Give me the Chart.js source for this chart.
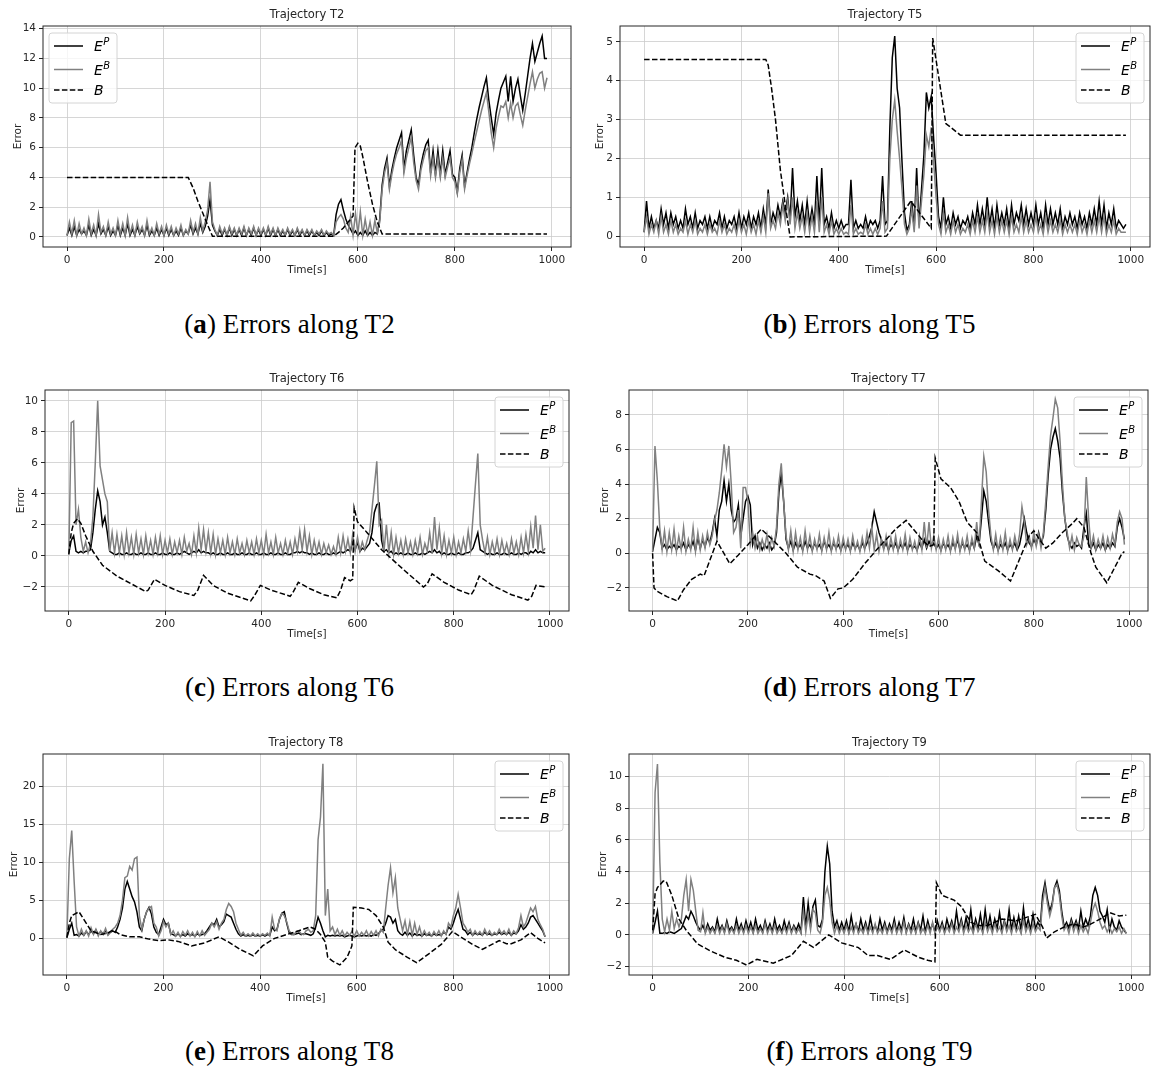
<!DOCTYPE html>
<html>
<head>
<meta charset="utf-8">
<title>Errors along trajectories</title>
<script src="https://cdn.jsdelivr.net/npm/chart.js@4.4.1/dist/chart.umd.min.js"></script>
<style>
  html, body { margin: 0; padding: 0; background: #ffffff; }
  #page { position: relative; width: 1159px; height: 1077px; overflow: hidden; background: #ffffff; }
  .panel { position: absolute; width: 579px; height: 290px; }
  .caption { position: absolute; width: 579px; text-align: center; font-family: 'Liberation Serif', 'Times New Roman', serif; font-size: 27px; line-height: 30px; letter-spacing: 0.1px; color: #000; }
</style>
</head>
<body>
<div id="page">
  <div class="panel" style="left:0px;top:0px"><canvas id="chartT2"></canvas></div>
  <div class="panel" style="left:580px;top:0px"><canvas id="chartT5"></canvas></div>
  <div class="panel" style="left:0px;top:364px"><canvas id="chartT6"></canvas></div>
  <div class="panel" style="left:580px;top:364px"><canvas id="chartT7"></canvas></div>
  <div class="panel" style="left:0px;top:728px"><canvas id="chartT8"></canvas></div>
  <div class="panel" style="left:580px;top:728px"><canvas id="chartT9"></canvas></div>

  <div class="caption" style="left:0px;top:309px">(<b>a</b>) Errors along T2</div>
  <div class="caption" style="left:580px;top:309px">(<b>b</b>) Errors along T5</div>
  <div class="caption" style="left:0px;top:672px">(<b>c</b>) Errors along T6</div>
  <div class="caption" style="left:580px;top:672px">(<b>d</b>) Errors along T7</div>
  <div class="caption" style="left:0px;top:1036px">(<b>e</b>) Errors along T8</div>
  <div class="caption" style="left:580px;top:1036px">(<b>f</b>) Errors along T9</div>
</div>
<script>
// sample times, seconds
const time = [
  0,5,10,15,20,25,30,35,40,45,50,55,60,65,70,75,80,85,90,95,
  100,105,110,115,120,125,130,135,140,145,150,155,160,165,170,175,180,185,190,195,
  200,205,210,215,220,225,230,235,240,245,250,255,260,265,270,275,280,285,290,295,
  300,305,310,315,320,325,330,335,340,345,350,355,360,365,370,375,380,385,390,395,
  400,405,410,415,420,425,430,435,440,445,450,455,460,465,470,475,480,485,490,495,
  500,505,510,515,520,525,530,535,540,545,550,555,560,565,570,575,580,585,590,595,
  600,605,610,615,620,625,630,635,640,645,650,655,660,665,670,675,680,685,690,695,
  700,705,710,715,720,725,730,735,740,745,750,755,760,765,770,775,780,785,790,795,
  800,805,810,815,820,825,830,835,840,845,850,855,860,865,870,875,880,885,890,895,
  900,905,910,915,920,925,930,935,940,945,950,955,960,965,970,975,980,985,990
];
const xRange = [-49.5, 1039.5];
const xTicks = [0, 200, 400, 600, 800, 1000];
const xTickLabels = ['0', '200', '400', '600', '800', '1000'];

// ---- Trajectory T2 ----
const t2EP = [
  0.1,0.6,0.1,0.7,0.1,0.5,0.2,0.4,0.1,0.8,0.1,0.5,0.1,0.9,0.2,0.5,0.1,0.7,0.1,0.4,
  0.1,0.8,0.1,0.6,0.1,0.9,0.1,0.5,0.1,0.7,0.2,0.5,0.1,0.8,0.1,0.4,0.1,0.6,0.1,0.5,
  0.1,0.6,0.1,0.5,0.1,0.4,0.1,0.6,0.1,0.4,0.2,0.8,0.2,0.6,0.2,0.9,0.3,0.7,1.4,2.5,
  0.8,0.4,0.1,0.5,0.1,0.5,0.1,0.6,0.1,0.5,0.1,0.5,0.1,0.6,0.1,0.5,0.1,0.6,0.1,0.5,
  0.1,0.5,0.1,0.6,0.1,0.5,0.1,0.5,0.1,0.4,0.1,0.5,0.1,0.4,0.1,0.5,0.1,0.4,0.1,0.4,
  0.1,0.4,0.1,0.3,0.1,0.4,0.1,0.3,0.1,0.2,0.1,1.5,2.2,2.5,1.8,1.2,0.8,0.5,0.2,0.4,
  0.1,0.3,0.1,0.4,0.1,0.3,0.1,0.3,0.2,1.2,3.5,4.6,5.3,3.4,4.5,5.3,6.0,6.5,7.0,4.6,
  5.8,6.5,7.2,5.5,4.0,3.5,4.8,5.6,6.2,6.5,4.3,5.8,4.2,5.8,4.2,5.8,4.2,5.0,5.8,4.2,
  4.0,3.0,4.6,5.5,3.4,4.3,5.2,6.0,7.0,7.9,8.7,9.4,10.1,10.7,9.2,8.0,6.9,8.3,9.2,10.0,
  10.4,10.8,9.1,10.8,9.1,10.0,10.6,9.5,8.5,9.6,10.8,12.0,13.0,11.8,12.4,13.0,13.5,12.0,12.0
];
const t2EB = [
  0.1,1.0,0.2,1.1,0.1,0.9,0.2,0.6,0.1,1.2,0.2,0.8,0.1,1.5,0.3,0.7,0.1,1.0,0.2,0.6,
  0.1,1.1,0.2,0.9,0.1,1.3,0.2,0.8,0.1,1.0,0.3,0.7,0.1,1.1,0.2,0.6,0.1,0.9,0.2,0.7,
  0.1,0.8,0.2,0.7,0.1,0.6,0.2,0.8,0.1,0.5,0.2,1.1,0.3,0.9,0.2,1.3,0.4,1.0,1.8,3.7,
  1.0,0.5,0.1,0.7,0.2,0.6,0.1,0.7,0.2,0.6,0.1,0.6,0.2,0.7,0.1,0.6,0.2,0.7,0.1,0.6,
  0.2,0.6,0.1,0.7,0.2,0.6,0.1,0.6,0.2,0.5,0.1,0.6,0.2,0.5,0.1,0.6,0.2,0.5,0.1,0.5,
  0.2,0.5,0.1,0.4,0.2,0.5,0.1,0.4,0.2,0.3,0.1,1.0,1.3,1.5,1.2,0.6,0.3,1.4,0.1,1.6,
  0.2,1.7,0.1,1.2,0.2,1.0,0.1,1.1,0.3,1.0,3.2,4.3,5.0,3.2,4.2,5.0,5.6,6.0,6.5,4.3,
  5.3,6.0,6.7,5.0,3.8,3.2,4.5,5.2,5.8,6.0,4.1,5.3,4.0,5.3,4.0,5.3,4.0,4.7,5.3,4.0,
  3.7,2.9,4.3,5.2,3.2,4.1,4.9,5.6,6.4,7.1,7.8,8.5,9.1,9.7,8.4,7.0,6.0,7.3,8.1,8.8,
  8.7,9.1,8.0,9.0,8.0,8.8,9.0,8.2,7.5,8.5,9.4,10.3,11.1,10.0,10.6,11.0,11.1,10.0,10.7
];
const t2BTime = [0,250,260,270,280,290,300,550,560,570,580,590,594,600,605,610,620,630,640,650,990];
const t2BVal = [4.0,4.0,3.3,2.4,1.6,0.8,0.05,0.05,0.3,0.6,1.0,1.4,6.0,6.3,6.1,5.4,3.7,2.2,1.0,0.2,0.2];
const t2YRange = [-0.68, 14.18];
const t2YTicks = [0, 2, 4, 6, 8, 10, 12, 14];
const t2YTickLabels = ['0', '2', '4', '6', '8', '10', '12', '14'];

// ---- Trajectory T5 ----
const t5EP = [
  0.1,0.9,0.2,0.5,0.2,0.4,0.2,0.7,0.3,0.6,0.2,0.6,0.3,0.5,0.2,0.4,0.2,0.7,0.3,0.5,
  0.2,0.6,0.2,0.4,0.3,0.5,0.2,0.5,0.2,0.4,0.3,0.6,0.2,0.5,0.2,0.4,0.3,0.5,0.2,0.6,
  0.2,0.5,0.3,0.6,0.2,0.5,0.3,0.6,0.2,0.7,0.3,1.2,0.3,0.6,0.4,0.8,0.5,0.9,0.6,1.0,
  0.4,1.75,0.5,0.9,0.4,0.8,0.3,0.9,0.3,0.7,0.3,1.55,0.3,1.75,0.3,0.5,0.2,0.6,0.2,0.4,
  0.2,0.4,0.2,0.3,0.3,1.45,0.2,0.4,0.2,0.3,0.2,0.5,0.2,0.4,0.3,0.4,0.2,0.4,1.55,0.3,
  0.4,2.8,4.6,5.15,3.8,3.3,1.9,0.6,0.15,0.3,0.9,0.2,1.75,0.3,1.2,2.1,3.7,3.3,3.6,2.5,
  1.6,0.5,0.2,1.0,0.3,0.5,0.2,0.6,0.3,0.5,0.2,0.4,0.3,0.5,0.2,0.6,0.3,0.8,0.3,0.7,
  0.3,1.0,0.3,0.7,0.2,0.8,0.3,0.6,0.3,0.7,0.2,0.8,0.3,0.6,0.4,0.8,0.3,0.7,0.3,0.6,
  0.3,0.8,0.3,0.6,0.2,0.8,0.3,0.7,0.3,0.6,0.3,0.7,0.2,0.5,0.3,0.6,0.3,0.5,0.2,0.6,
  0.3,0.5,0.2,0.6,0.3,0.7,0.3,0.9,0.3,0.8,0.2,0.6,0.3,0.7,0.2,0.4,0.3,0.2,0.3
];
const t5EB = [
  0.1,0.5,0.05,0.3,0.1,0.4,0.05,0.5,0.1,0.3,0.05,0.4,0.1,0.3,0.05,0.2,0.1,0.4,0.05,0.3,
  0.1,0.4,0.05,0.2,0.1,0.3,0.05,0.3,0.1,0.2,0.05,0.4,0.1,0.3,0.05,0.2,0.1,0.3,0.05,0.4,
  0.1,0.3,0.05,0.4,0.1,0.3,0.05,0.4,0.1,0.5,0.1,1.1,0.2,0.4,0.2,0.6,0.3,0.8,0.4,0.9,
  0.3,1.0,0.2,0.6,0.2,0.5,0.1,0.6,0.1,0.5,0.1,0.9,0.1,1.0,0.1,0.3,0.05,0.4,0.05,0.2,
  0.05,0.2,0.05,0.1,0.05,0.8,0.05,0.2,0.05,0.1,0.05,0.3,0.05,0.2,0.05,0.2,0.05,0.2,0.9,0.1,
  0.2,2.0,3.0,3.5,2.7,2.0,1.2,0.3,0.05,0.2,0.7,0.1,1.3,0.2,0.9,1.6,2.6,2.3,2.8,1.9,
  1.0,0.3,0.05,0.6,0.1,0.3,0.05,0.4,0.1,0.3,0.05,0.2,0.1,0.3,0.05,0.4,0.1,0.5,0.1,0.4,
  0.1,0.6,0.1,0.4,0.05,0.5,0.1,0.4,0.1,0.4,0.05,0.5,0.1,0.3,0.1,0.5,0.1,0.4,0.1,0.3,
  0.1,0.5,0.1,0.3,0.05,0.5,0.1,0.4,0.1,0.3,0.1,0.4,0.05,0.3,0.1,0.3,0.1,0.3,0.05,0.4,
  0.1,0.3,0.05,0.4,0.1,0.4,0.1,0.5,0.1,0.5,0.05,0.3,0.1,0.4,0.05,0.2,0.1,0.1,0.1
];
const t5BTime = [0,250,255,262,270,280,290,300,498,548,590,593,620,650,990];
const t5BVal = [4.55,4.55,4.4,3.8,3.0,1.7,0.8,-0.02,0.0,0.9,0.2,5.1,2.9,2.6,2.6];
const t5YRange = [-0.28, 5.41];
const t5YTicks = [0, 1, 2, 3, 4, 5];
const t5YTickLabels = ['0', '1', '2', '3', '4', '5'];

// ---- Trajectory T6 ----
const t6EP = [
  0.2,1.0,1.3,0.3,0.2,0.3,0.2,0.3,0.3,0.4,1.5,3.0,4.2,3.5,2.0,2.5,1.5,0.3,0.2,0.1,
  0.1,0.2,0.1,0.1,0.2,0.1,0.1,0.2,0.1,0.1,0.2,0.1,0.1,0.2,0.1,0.1,0.2,0.1,0.1,0.2,
  0.1,0.1,0.2,0.1,0.1,0.2,0.1,0.2,0.3,0.2,0.1,0.2,0.3,0.2,0.4,0.2,0.3,0.2,0.2,0.1,
  0.2,0.1,0.1,0.2,0.1,0.1,0.2,0.1,0.1,0.2,0.1,0.1,0.2,0.1,0.1,0.2,0.1,0.1,0.2,0.1,
  0.1,0.2,0.1,0.1,0.2,0.1,0.1,0.2,0.1,0.1,0.2,0.1,0.1,0.2,0.2,0.3,0.2,0.3,0.2,0.2,
  0.1,0.2,0.1,0.1,0.2,0.1,0.1,0.2,0.1,0.1,0.2,0.1,0.2,0.3,0.2,0.3,0.4,0.3,0.9,0.4,
  0.9,0.3,0.5,0.4,0.6,0.8,1.5,2.8,3.3,3.4,1.0,0.3,0.4,0.2,0.3,0.1,0.2,0.1,0.2,0.1,
  0.1,0.2,0.1,0.1,0.2,0.1,0.1,0.2,0.1,0.2,0.3,0.2,0.4,0.2,0.3,0.1,0.2,0.1,0.1,0.2,
  0.1,0.1,0.2,0.1,0.1,0.2,0.2,0.3,0.5,1.0,1.5,0.4,0.3,0.2,0.1,0.2,0.1,0.1,0.2,0.1,
  0.1,0.2,0.1,0.1,0.2,0.1,0.1,0.2,0.1,0.2,0.2,0.1,0.3,0.2,0.4,0.2,0.3,0.2,0.2
];
const t6EB = [
  0.1,8.6,8.7,2.0,3.0,1.2,0.3,0.9,0.2,0.8,2.5,6.0,10.0,5.8,4.9,4.0,3.5,0.3,1.5,0.2,
  1.4,0.2,1.3,0.1,1.5,0.2,1.2,0.1,1.4,0.2,1.1,0.1,1.3,0.2,1.0,0.1,1.2,0.2,1.3,0.1,
  1.0,0.2,1.1,0.1,0.9,0.2,1.0,0.1,1.2,0.3,0.8,0.1,1.3,0.2,1.8,0.4,1.7,0.3,1.5,0.2,
  1.4,0.1,1.1,0.2,1.0,0.1,1.2,0.2,0.9,0.1,1.1,0.2,0.8,0.1,1.0,0.2,0.9,0.1,1.1,0.2,
  1.0,0.1,1.4,0.2,0.9,0.1,1.2,0.2,0.8,0.1,1.0,0.2,0.9,0.1,1.1,0.3,1.6,0.4,1.7,0.3,
  1.3,0.1,1.0,0.2,0.9,0.1,0.8,0.2,0.7,0.1,0.6,0.1,1.2,0.2,1.3,0.3,1.1,0.2,1.4,0.3,
  1.2,0.3,0.9,0.4,1.0,1.5,3.0,4.5,6.1,2.0,2.3,0.3,2.0,0.2,1.5,0.1,1.2,0.2,1.0,0.1,
  1.1,0.2,0.9,0.1,1.0,0.2,1.2,0.1,0.8,0.3,1.5,0.2,2.5,0.4,1.8,0.2,1.3,0.1,1.0,0.2,
  1.2,0.1,0.9,0.2,1.1,0.3,1.6,0.4,2.5,4.6,6.6,2.0,1.0,0.2,1.2,0.1,0.9,0.2,1.1,0.1,
  1.0,0.2,0.8,0.1,1.1,0.2,0.9,0.1,1.2,0.2,1.4,0.3,1.9,0.5,2.6,0.4,2.0,0.3,0.5
];
const t6BTime = [0,5,10,18,25,35,50,70,100,130,160,165,178,200,230,260,268,280,300,330,
  378,385,398,420,460,465,477,500,530,557,565,573,585,590,593,600,620,650,700,737,
  745,755,780,810,836,842,853,880,920,954,962,971,990];
const t6BVal = [0.1,1.5,2.1,2.4,2.1,1.3,0.3,-0.6,-1.3,-1.8,-2.3,-2.2,-1.5,-1.9,-2.3,-2.55,-2.2,-1.25,-1.9,-2.4,
  -2.9,-2.6,-1.9,-2.2,-2.6,-2.4,-1.7,-2.1,-2.5,-2.7,-2.2,-1.4,-1.6,-1.5,3.1,2.2,1.5,0.4,-1.0,-2.0,
  -1.8,-1.15,-1.7,-2.2,-2.5,-2.2,-1.3,-1.9,-2.5,-2.85,-2.6,-1.9,-2.0];
const t6YRange = [-3.55, 10.7];
const t6YTicks = [-2, 0, 2, 4, 6, 8, 10];
const t6YTickLabels = ['\u22122', '0', '2', '4', '6', '8', '10'];

// ---- Trajectory T7 ----
const t7EP = [
  0.1,0.8,1.5,1.2,0.3,0.5,0.2,0.4,0.3,0.5,0.2,0.4,0.3,0.6,0.2,0.5,0.3,0.7,0.2,0.9,
  0.3,0.8,0.4,0.9,0.6,1.2,2.0,1.0,2.5,3.0,4.2,3.0,4.0,2.5,1.8,2.0,2.8,1.0,2.0,3.0,
  3.3,2.8,0.5,1.0,0.3,0.6,0.2,0.5,0.3,0.6,0.2,0.4,1.2,3.5,4.6,3.0,0.8,0.3,0.7,0.2,
  0.6,0.3,0.5,0.2,0.7,0.3,0.5,0.2,0.6,0.3,0.5,0.2,0.7,0.3,0.5,0.2,0.6,0.3,0.5,0.2,
  0.6,0.3,0.5,0.2,0.6,0.3,0.5,0.2,0.6,0.3,0.6,1.0,1.5,2.4,1.8,1.2,0.8,0.3,0.6,0.2,
  0.5,0.3,0.6,0.2,0.5,0.3,0.6,0.2,0.5,0.3,0.4,0.2,0.6,0.3,0.8,0.3,0.7,0.4,0.6,0.3,
  0.5,0.2,0.6,0.3,0.5,0.2,0.6,0.3,0.8,0.2,0.6,0.3,0.5,0.2,0.7,0.3,1.0,0.5,2.0,3.6,
  3.0,1.8,0.7,0.3,0.6,0.2,0.5,0.3,0.6,0.2,0.5,0.3,0.6,0.2,0.5,1.2,2.0,1.2,0.6,0.4,
  0.8,0.5,1.2,0.6,1.0,2.5,4.5,6.0,6.7,7.2,6.5,5.5,3.5,2.0,1.0,0.5,0.3,0.6,0.4,0.5,
  0.3,1.5,2.3,0.5,0.3,0.6,0.2,0.5,0.3,0.6,0.2,0.5,0.3,0.6,0.4,1.5,2.0,1.5,0.8
];
const t7EB = [
  0.1,6.2,4.2,1.5,0.2,1.3,0.1,1.2,0.2,1.4,0.1,1.0,0.2,1.5,0.1,0.8,0.2,1.5,0.1,1.2,
  0.2,1.0,0.3,1.2,0.5,1.0,1.9,2.5,3.5,4.8,6.3,5.0,6.2,4.0,1.2,1.5,2.5,0.3,3.8,3.8,
  3.0,0.5,1.2,0.3,1.0,0.2,0.8,0.3,1.1,0.2,0.9,0.4,1.5,4.0,5.2,3.0,1.0,0.2,1.3,0.1,
  1.2,0.2,0.9,0.1,1.3,0.2,1.0,0.1,0.8,0.2,1.1,0.1,0.9,0.2,1.2,0.1,0.8,0.2,1.0,0.1,
  0.9,0.2,0.8,0.1,1.0,0.2,0.7,0.1,0.9,0.2,1.2,0.3,1.5,0.2,1.1,0.1,0.8,0.2,1.0,0.1,
  0.9,0.2,1.0,0.1,0.8,0.2,1.1,0.1,0.9,0.2,0.7,0.1,1.0,0.2,1.8,0.3,1.8,0.3,1.0,0.2,
  0.9,0.1,0.8,0.2,1.0,0.1,0.9,0.2,1.1,0.1,0.8,0.2,1.0,0.1,0.9,0.3,1.8,0.4,3.0,5.6,
  4.7,2.5,1.0,0.2,1.1,0.1,0.9,0.2,1.2,0.1,0.8,0.2,1.0,0.3,1.1,2.7,1.8,0.5,1.0,0.3,
  1.2,0.4,1.1,0.3,1.2,3.0,5.0,6.8,7.8,8.9,8.4,6.5,4.0,2.0,1.2,0.3,1.0,0.2,0.9,0.5,
  0.4,1.0,4.4,2.0,0.3,1.0,0.2,0.8,0.3,1.0,0.2,0.9,0.3,1.1,0.5,1.8,2.4,2.0,0.5
];
const t7BTime = [0,3,10,30,52,65,82,100,108,135,162,180,200,228,255,280,304,330,343,360,
  373,389,400,420,445,470,490,510,532,550,565,580,590,593,605,625,643,660,680,697,
  725,751,775,790,800,812,825,840,860,880,890,905,920,930,953,970,985,990];
const t7BVal = [0,-2.0,-2.2,-2.5,-2.75,-2.1,-1.5,-1.2,-1.3,0.7,-0.6,-0.1,0.5,1.4,0.7,0.0,-0.8,-1.2,-1.3,-1.6,
  -2.6,-2.05,-2.0,-1.5,-0.6,0.2,0.8,1.4,1.9,1.3,0.8,0.4,0.5,5.5,4.3,3.8,3.0,1.8,1.2,-0.45,
  -1.0,-1.6,0.0,1.0,1.3,0.8,0.3,0.6,1.2,1.7,2.0,1.5,0.0,-0.8,-1.7,-0.8,0.0,0.1];
const t7YRange = [-3.33, 9.43];
const t7YTicks = [-2, 0, 2, 4, 6, 8];
const t7YTickLabels = ['\u22122', '0', '2', '4', '6', '8'];

// ---- Trajectory T8 ----
const t8EP = [
  0.1,1.2,2.0,0.4,0.5,0.3,0.7,0.4,0.9,0.5,1.0,0.6,1.1,0.5,0.9,0.6,1.0,0.5,0.8,1.0,
  0.8,1.5,2.5,4.0,6.5,7.5,6.5,5.5,4.8,3.5,1.5,1.0,2.5,3.5,4.1,3.2,1.5,0.8,0.5,1.5,
  2.5,1.8,2.0,0.6,0.5,0.3,0.6,0.3,0.5,0.3,0.6,0.4,0.5,0.3,0.6,0.4,0.5,0.6,1.0,1.5,
  2.0,1.8,2.5,1.5,1.8,2.2,3.2,3.0,2.8,2.0,1.2,0.6,0.3,0.5,0.3,0.4,0.3,0.5,0.3,0.4,
  0.3,0.5,0.3,0.5,0.4,1.5,1.0,1.2,2.5,3.3,3.5,2.0,0.8,0.5,0.5,0.6,0.7,0.5,0.6,0.6,
  0.5,0.4,0.6,1.5,2.8,2.0,1.0,0.2,0.4,0.3,0.4,0.3,0.4,0.3,0.4,0.2,0.3,0.4,0.3,0.2,
  0.3,0.4,0.3,0.4,0.3,0.4,0.3,0.5,0.4,0.6,1.0,1.2,2.0,3.0,2.8,2.0,2.5,1.0,0.6,0.4,
  0.8,0.4,0.7,0.3,0.6,0.4,0.5,0.3,0.6,0.4,0.5,0.3,0.6,0.4,0.5,0.4,0.8,0.6,1.5,1.2,
  2.0,3.0,3.8,2.5,1.2,1.0,0.5,0.8,0.4,0.7,0.5,0.6,0.4,0.8,0.5,0.6,0.4,0.6,0.5,0.8,
  0.5,0.7,0.5,0.8,0.4,0.7,0.6,1.0,1.8,1.2,1.5,2.0,2.8,3.0,2.5,2.0,1.5,1.0,0.2
];
const t8EB = [
  0.2,10.5,14.2,7.5,1.5,0.3,1.2,0.4,1.0,0.3,1.4,0.5,1.2,0.3,1.0,0.5,1.3,0.4,0.8,1.2,
  1.5,2.0,3.0,5.0,8.0,8.2,9.5,9.0,10.5,10.7,3.0,1.2,2.5,3.5,4.0,4.2,2.0,1.5,0.3,1.0,
  2.2,1.5,2.0,0.5,1.0,0.3,0.8,0.2,0.9,0.4,1.0,0.3,0.8,0.2,0.9,0.3,1.0,0.4,0.8,1.2,
  2.0,1.5,2.2,1.2,2.0,2.5,3.8,4.6,4.2,3.5,2.0,1.2,0.4,0.8,0.3,0.6,0.3,0.7,0.3,0.6,
  0.3,0.6,0.4,0.7,0.3,2.8,1.2,1.0,2.6,3.3,3.0,2.2,1.0,0.6,0.5,0.9,1.0,0.6,0.5,1.0,
  1.2,0.8,1.0,3.0,13.0,16.0,23.0,3.0,6.5,1.0,1.5,0.5,1.2,0.4,1.0,0.3,0.8,0.4,0.9,0.3,
  1.0,0.3,0.8,0.4,1.0,0.3,0.9,0.4,1.0,0.3,1.2,0.8,4.0,7.0,9.3,6.0,8.0,4.0,2.5,1.0,
  2.3,0.5,2.2,0.4,2.0,0.5,1.5,0.3,1.0,0.4,0.8,0.3,0.9,0.4,1.0,0.3,1.0,0.5,2.0,1.5,
  3.0,4.0,5.8,4.0,2.0,1.5,0.8,1.2,0.4,1.0,0.5,0.9,0.4,1.2,0.5,1.0,0.4,0.8,0.5,1.2,
  0.6,1.0,0.5,1.2,0.4,1.0,0.6,1.4,3.0,1.5,2.0,3.0,4.0,3.5,4.2,2.5,1.8,1.2,0.2
];
const t8BTime = [0,5,10,25,35,50,70,85,95,110,130,150,170,190,210,230,258,285,315,335,
  360,386,405,430,460,480,503,515,525,535,540,550,565,580,590,593,610,625,640,655,
  665,680,705,724,750,775,798,820,840,860,880,895,910,920,940,960,975,990];
const t8BVal = [0.1,2.0,3.0,3.5,2.5,1.0,0.5,0.7,1.1,0.5,0.2,0.2,-0.1,-0.3,-0.2,-0.4,-1.0,-0.6,0.2,-0.5,
  -1.5,-2.3,-1.0,0.0,0.6,1.0,1.5,1.2,0.5,-0.5,-2.5,-3.0,-3.5,-2.5,-1.0,4.1,4.0,3.8,3.0,1.5,
  -0.5,-1.5,-2.5,-3.2,-2.0,-0.8,0.9,0.0,-0.8,-1.45,-0.8,-0.3,-0.7,-0.7,-0.2,0.75,0.0,-0.6];
const t8YRange = [-4.83, 24.3];
const t8YTicks = [0, 5, 10, 15, 20];
const t8YTickLabels = ['0', '5', '10', '15', '20'];

// ---- Trajectory T9 ----
const t9EP = [
  0.1,0.8,1.5,0.1,0.1,0.15,0.1,0.2,0.15,0.1,0.2,0.3,0.4,0.8,1.2,1.0,1.5,1.2,0.8,0.5,
  0.3,0.6,0.2,0.7,0.3,0.5,0.2,1.0,0.3,0.6,0.2,0.9,0.3,0.5,0.2,1.0,0.3,0.7,0.2,0.9,
  0.3,0.8,0.2,1.0,0.3,0.6,0.2,0.9,0.3,0.7,0.2,1.0,0.3,0.6,0.2,0.9,0.3,0.8,0.2,0.6,
  0.3,0.7,0.2,2.4,0.5,2.0,0.6,1.8,2.2,0.6,0.5,1.0,4.0,5.6,4.5,1.5,0.5,0.9,0.3,0.8,
  0.3,0.9,0.2,1.2,0.3,0.7,0.2,1.0,0.3,0.8,0.2,1.1,0.3,0.6,0.2,1.0,0.3,0.8,0.2,0.7,
  0.3,1.0,0.2,0.8,0.3,1.1,0.2,0.7,0.3,1.0,0.2,0.8,0.3,1.2,0.2,0.9,0.3,0.7,0.2,0.9,
  0.3,0.8,0.2,1.0,0.4,0.9,0.3,1.5,0.4,1.0,0.3,1.1,0.4,1.6,0.3,1.0,0.4,1.3,0.3,1.6,
  0.4,1.2,0.3,1.0,0.4,1.4,0.3,0.9,0.4,1.6,0.3,1.1,0.4,1.2,0.3,1.7,0.4,1.0,0.3,1.3,
  0.4,0.8,0.5,2.5,3.3,2.3,1.5,2.0,3.0,3.4,2.8,1.5,0.5,0.8,0.4,1.0,0.5,0.9,0.4,1.5,
  0.5,1.0,0.6,1.2,2.5,3.0,2.5,1.5,1.2,0.8,1.6,0.3,1.0,0.5,0.3,0.9,0.5,0.3,0.1
];
const t9EB = [
  0.1,9.0,10.8,4.6,1.0,0.2,1.0,0.3,1.5,0.4,1.0,0.5,1.0,2.5,3.5,1.5,3.5,2.8,1.5,0.3,
  0.2,1.4,0.1,0.5,0.1,0.4,0.1,0.6,0.1,0.5,0.1,0.7,0.1,0.4,0.1,0.6,0.1,0.5,0.1,0.6,
  0.1,0.5,0.1,0.6,0.1,0.4,0.1,0.7,0.1,0.5,0.1,0.6,0.1,0.4,0.1,0.5,0.1,0.6,0.1,0.5,
  0.1,0.4,0.1,1.5,0.2,1.3,0.3,1.6,1.4,0.3,0.1,0.8,2.5,3.0,2.2,0.8,0.1,0.6,0.1,0.5,
  0.1,0.6,0.1,0.5,0.1,0.7,0.1,0.4,0.1,0.6,0.1,0.5,0.1,0.7,0.1,0.4,0.1,0.6,0.1,0.5,
  0.1,0.7,0.1,0.5,0.1,0.8,0.1,0.6,0.1,0.5,0.1,0.7,0.1,0.4,0.1,0.6,0.1,0.8,0.1,0.5,
  0.2,0.6,0.1,0.5,0.2,0.7,0.1,0.5,0.2,0.8,0.1,0.6,0.2,0.5,0.1,0.7,0.2,0.5,0.1,0.8,
  0.2,0.6,0.1,0.7,0.2,0.5,0.1,0.8,0.2,0.6,0.1,0.7,0.2,0.5,0.1,0.9,0.2,0.6,0.1,0.7,
  0.2,0.5,0.3,2.0,3.0,2.0,1.2,1.8,3.0,3.2,2.5,1.2,0.3,0.6,0.1,0.8,0.2,0.7,0.1,0.6,
  0.2,0.5,0.1,0.8,1.6,2.0,1.5,0.8,0.4,0.6,0.2,0.5,0.1,0.4,0.2,0.5,0.1,0.4,0.1
];
const t9BTime = [0,5,10,22,28,40,55,70,94,120,150,175,196,218,252,290,315,336,368,395,
  430,450,470,497,526,555,575,590,593,605,630,645,665,680,700,730,760,790,800,815,
  823,840,860,880,900,910,935,956,975,990];
const t9BVal = [0.3,2.6,3.0,3.4,3.4,2.5,1.0,0.3,-0.57,-1.0,-1.4,-1.6,-1.9,-1.54,-1.78,-1.3,-0.4,-0.78,0.0,-0.5,
  -0.8,-1.3,-1.3,-1.55,-0.95,-1.4,-1.6,-1.7,3.3,2.5,2.2,1.8,0.8,0.6,0.6,1.0,0.9,1.2,1.3,0.5,
  -0.2,0.2,0.5,0.7,0.5,0.6,1.0,1.4,1.2,1.25];
const t9YRange = [-2.53, 11.43];
const t9YTicks = [-2, 0, 2, 4, 6, 8, 10];
const t9YTickLabels = ['\u22122', '0', '2', '4', '6', '8', '10'];

const legendBase = ['E', 'E', 'B'];
const legendSup = ['P', 'B', ''];

const FONT = "'DejaVu Sans', sans-serif";
const TEXT = '#262626';
const GRID = '#cccccc';
const LINE_W = 1.5;

// closed box round the plot, like matplotlib spines
const frame = {
  id: 'frame',
  afterDatasetsDraw(chart) {
    const {ctx, chartArea} = chart;
    ctx.save();
    ctx.strokeStyle = '#262626';
    ctx.lineWidth = 1;
    ctx.strokeRect(chartArea.left, chartArea.top, chartArea.right - chartArea.left, chartArea.bottom - chartArea.top);
    ctx.restore();
  }
};

// legend with superscripts
const errLegend = {
  id: 'errLegend',
  afterDatasetsDraw(chart, args, opts) {
    const {ctx, chartArea} = chart;
    const w = 68, h = 70, r = 3;
    const x = opts.side === 'left' ? chartArea.left + 6 : chartArea.right - 6 - w;
    const y = chartArea.top + 7;
    ctx.save();
    ctx.beginPath();
    ctx.moveTo(x + r, y);
    ctx.arcTo(x + w, y, x + w, y + h, r);
    ctx.arcTo(x + w, y + h, x, y + h, r);
    ctx.arcTo(x, y + h, x, y, r);
    ctx.arcTo(x, y, x + w, y, r);
    ctx.closePath();
    ctx.fillStyle = 'rgba(255,255,255,0.8)';
    ctx.fill();
    ctx.strokeStyle = '#d4d4d4';
    ctx.lineWidth = 1;
    ctx.stroke();

    const rows = [13, 36.5, 57];
    chart.data.datasets.forEach((ds, i) => {
      const ly = y + rows[i];
      ctx.beginPath();
      ctx.setLineDash(ds.borderDash || []);
      ctx.strokeStyle = ds.borderColor;
      ctx.lineWidth = ds.borderWidth;
      ctx.moveTo(x + 5, ly);
      ctx.lineTo(x + 34, ly);
      ctx.stroke();
      ctx.setLineDash([]);

      const tx = x + 45;
      const base = ly + 5;
      ctx.fillStyle = '#000';
      ctx.textBaseline = 'alphabetic';
      ctx.textAlign = 'left';
      ctx.font = 'italic 14px ' + FONT;
      ctx.fillText(legendBase[i], tx, base);
      if (legendSup[i]) {
        const bw = ctx.measureText(legendBase[i]).width;
        ctx.font = 'italic 10px ' + FONT;
        ctx.fillText(legendSup[i], tx + bw + 0.5, base - 6);
      }
    });
    ctx.restore();
  }
};

const panels = [
  { id: 'chartT2', title: 'Trajectory T2', eP: t2EP, eB: t2EB, bTime: t2BTime, bVal: t2BVal,
    yRange: t2YRange, yTicks: t2YTicks, yLabels: t2YTickLabels, axisW: 43, padRight: 8, yTitleX: 18, side: 'left' },
  { id: 'chartT5', title: 'Trajectory T5', eP: t5EP, eB: t5EB, bTime: t5BTime, bVal: t5BVal,
    yRange: t5YRange, yTicks: t5YTicks, yLabels: t5YTickLabels, axisW: 40, padRight: 9, yTitleX: 20, side: 'right' },
  { id: 'chartT6', title: 'Trajectory T6', eP: t6EP, eB: t6EB, bTime: t6BTime, bVal: t6BVal,
    yRange: t6YRange, yTicks: t6YTicks, yLabels: t6YTickLabels, axisW: 45, padRight: 10, yTitleX: 21, side: 'right' },
  { id: 'chartT7', title: 'Trajectory T7', eP: t7EP, eB: t7EB, bTime: t7BTime, bVal: t7BVal,
    yRange: t7YRange, yTicks: t7YTicks, yLabels: t7YTickLabels, axisW: 49, padRight: 11, yTitleX: 25, side: 'right' },
  { id: 'chartT8', title: 'Trajectory T8', eP: t8EP, eB: t8EB, bTime: t8BTime, bVal: t8BVal,
    yRange: t8YRange, yTicks: t8YTicks, yLabels: t8YTickLabels, axisW: 43, padRight: 10, yTitleX: 14, side: 'right' },
  { id: 'chartT9', title: 'Trajectory T9', eP: t9EP, eB: t9EB, bTime: t9BTime, bVal: t9BVal,
    yRange: t9YRange, yTicks: t9YTicks, yLabels: t9YTickLabels, axisW: 49, padRight: 9, yTitleX: 23, side: 'right' }
];

function makeChart(p) {
  const ctx = document.getElementById(p.id).getContext('2d');
  return new Chart(ctx, {
    type: 'line',
    data: {
      labels: time,
      datasets: [
        { label: 'E^P', data: p.eP, borderColor: '#000000', borderWidth: LINE_W, order: 3 },
        { label: 'E^B', data: p.eB, borderColor: '#808080', borderWidth: LINE_W, order: 2 },
        { label: 'B', data: p.bTime.map((t, i) => ({ x: t, y: p.bVal[i] })),
          borderColor: '#000000', borderWidth: LINE_W, borderDash: [5.5, 2.4], order: 1 }
      ]
    },
    options: {
      responsive: true,
      maintainAspectRatio: false,
      animation: false,
      elements: { point: { radius: 0 }, line: { tension: 0 } },
      layout: { padding: { left: 0, right: p.padRight, top: 0, bottom: 0 } },
      plugins: {
        legend: { display: false },
        tooltip: { enabled: false },
        title: {
          display: true, text: p.title, fullSize: false, color: TEXT,
          font: { family: FONT, size: 11.5, weight: 'normal' },
          padding: { top: 8, bottom: 4.2 }
        },
        errLegend: { side: p.side }
      },
      scales: {
        x: {
          type: 'linear',
          min: xRange[0],
          max: xRange[1],
          afterBuildTicks: scale => { scale.ticks = xTicks.map(v => ({ value: v })); },
          afterFit: scale => { scale.height = 43; },
          ticks: {
            autoSkip: false, maxRotation: 0, padding: 3, color: TEXT,
            font: { family: FONT, size: 10.5 },
            callback: (value, index) => xTickLabels[index]
          },
          grid: { color: GRID, lineWidth: 0.8, tickLength: 4, tickColor: '#262626', tickWidth: 1 },
          border: { display: false },
          title: {
            display: true, text: 'Time[s]', color: TEXT,
            font: { family: FONT, size: 10.5 },
            padding: { top: 0, bottom: 13.2 }
          }
        },
        y: {
          type: 'linear',
          min: p.yRange[0],
          max: p.yRange[1],
          afterBuildTicks: scale => { scale.ticks = p.yTicks.map(v => ({ value: v })); },
          afterFit: scale => { scale.width = p.axisW; },
          ticks: {
            autoSkip: false, padding: 3, color: TEXT,
            font: { family: FONT, size: 10.5 },
            callback: (value, index) => p.yLabels[index]
          },
          grid: { color: GRID, lineWidth: 0.8, tickLength: 4, tickColor: '#262626', tickWidth: 1 },
          border: { display: false },
          title: {
            display: true, text: 'Error', color: TEXT,
            font: { family: FONT, size: 10.5 },
            padding: { top: p.yTitleX - 6.3, bottom: 0 }
          }
        }
      }
    },
    plugins: [frame, errLegend]
  });
}

panels.forEach(makeChart);
</script>
</body>
</html>
